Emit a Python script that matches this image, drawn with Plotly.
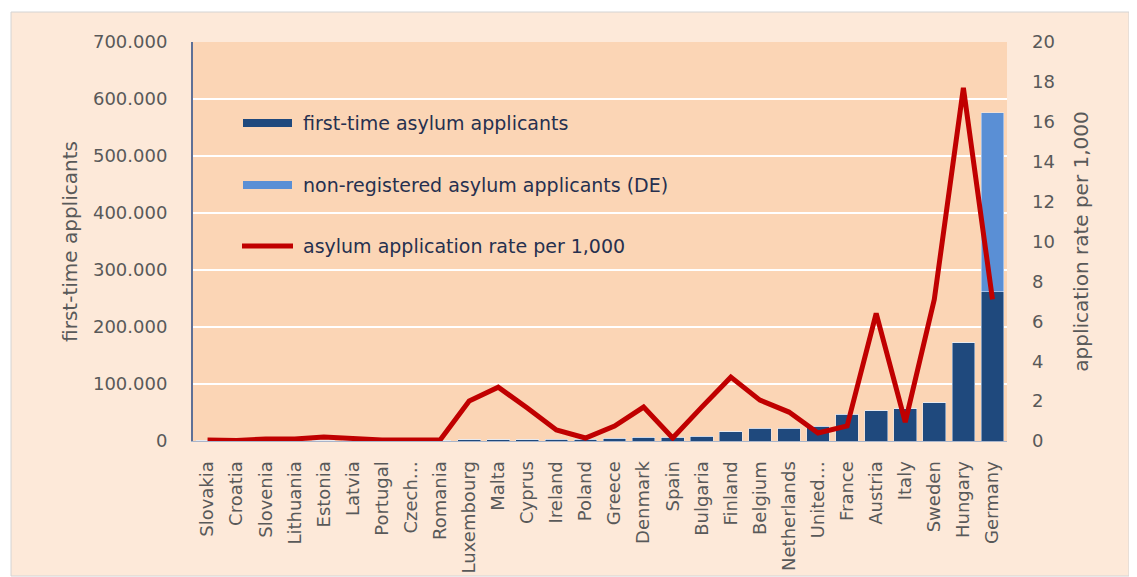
import plotly.graph_objects as go

countries = ["Slovakia", "Croatia", "Slovenia", "Lithuania", "Estonia", "Latvia",
             "Portugal", "Czech…", "Romania", "Luxembourg", "Malta", "Cyprus",
             "Ireland", "Poland", "Greece", "Denmark", "Spain", "Bulgaria",
             "Finland", "Belgium", "Netherlands", "United…", "France", "Austria",
             "Italy", "Sweden", "Hungary", "Germany"]
first_time = [150, 100, 150, 150, 100, 200, 400, 600, 800, 2500, 2000, 2500,
              3000, 3500, 5000, 6500, 7000, 8500, 16000, 22000, 22000, 26000,
              47000, 53000, 57000, 67000, 172000, 262000]
non_registered = [0, 0, 0, 0, 0, 0, 0, 0, 0, 0, 0, 0, 0, 0, 0, 0, 0, 0, 0, 0,
                  0, 0, 0, 0, 0, 0, 0, 314000]
rate = [0.05, 0.03, 0.1, 0.1, 0.2, 0.1, 0.05, 0.05, 0.05, 2.0, 2.7, 1.65,
        0.55, 0.15, 0.75, 1.7, 0.15, 1.7, 3.2, 2.05, 1.45, 0.4, 0.75, 6.4,
        0.95, 7.1, 17.7, 7.1]

legend_labels = ["first-time asylum applicants",
                 "non-registered asylum applicants (DE)",
                 "asylum application rate per 1,000"]

DARK = "#1F497D"
LIGHT = "#5A8FD5"
RED = "#C00000"
FONT = "DejaVu Sans"
GRAY = "#595959"

# the page places the figure 8px in from the top-left corner
OFF = 8
FW, FH = 1137 - OFF, 577 - OFF

fig = go.Figure()
fig.add_trace(go.Bar(x=countries, y=first_time, marker_color=DARK,
                     name=legend_labels[0], showlegend=False))
fig.add_trace(go.Bar(x=countries, y=non_registered, marker_color=LIGHT,
                     name=legend_labels[1], showlegend=False))
fig.add_trace(go.Scatter(x=countries, y=rate, yaxis="y2", mode="lines",
                         line=dict(color=RED, width=5), name=legend_labels[2],
                         showlegend=False))

# plot area in page pixels: x 193..1007, y 42..441
L, R, T, B = 193, 1007, 42, 441
W, H = R - L, B - T
def px(x):
    return (x - L) / W
def py(y):
    return (B - y) / H

shapes = [
    dict(type="rect", xref="paper", yref="paper", layer="below",
         x0=px(11), x1=px(1129), y0=py(576), y1=py(12),
         fillcolor="#FDE9D9", line=dict(color="#D4D4D4", width=1)),
    dict(type="rect", xref="paper", yref="paper", layer="below",
         x0=0, x1=1, y0=0, y1=1, fillcolor="#FBD5B5", line=dict(width=0)),
    # legend swatches
    dict(type="rect", xref="paper", yref="paper", x0=px(243), x1=px(292),
         y0=py(127), y1=py(119), fillcolor=DARK, line=dict(width=0)),
    dict(type="rect", xref="paper", yref="paper", x0=px(243), x1=px(292),
         y0=py(189), y1=py(181), fillcolor=LIGHT, line=dict(width=0)),
    dict(type="line", xref="paper", yref="paper", x0=px(242), x1=px(293),
         y0=py(246), y1=py(246), line=dict(color=RED, width=5)),
]
annotations = []
for lab, yy in zip(legend_labels, [123, 185, 246]):
    annotations.append(dict(xref="paper", yref="paper", x=px(301), y=py(yy),
                            text=lab, showarrow=False, xanchor="left",
                            yanchor="middle",
                            font=dict(family=FONT, size=19, color="#26304F")))

fig.update_layout(
    width=FW, height=FH,
    margin=dict(l=L - OFF, r=FW - (R - OFF), t=T - OFF, b=FH - (B - OFF),
                autoexpand=False),
    paper_bgcolor="white",
    plot_bgcolor="rgba(0,0,0,0)",
    barmode="stack",
    bargap=0.22,
    separators=",.",
    showlegend=False,
    shapes=shapes,
    annotations=annotations,
    font=dict(family=FONT, size=18, color=GRAY),
    xaxis=dict(tickangle=-90, showgrid=False, showline=True,
               linecolor="#A9B5CB", linewidth=1, ticks="",
               ticklabelstandoff=12,
               tickfont=dict(family=FONT, size=18, color=GRAY),
               range=[-0.5, len(countries) - 0.5], automargin=False),
    yaxis=dict(range=[0, 700000], dtick=100000, tickformat=",d",
               showgrid=True, gridcolor="white", gridwidth=2,
               showline=True, linecolor="#5E7096", linewidth=2,
               zeroline=False, ticks="", ticklabelstandoff=20,
               tickfont=dict(family=FONT, size=18, color=GRAY),
               title=dict(text="first-time applicants", standoff=10,
                          font=dict(family=FONT, size=20, color=GRAY)),
               automargin=False),
    yaxis2=dict(range=[0, 20], dtick=2, overlaying="y", side="right",
                showgrid=False, showline=False, zeroline=False, ticks="",
                ticklabelstandoff=24,
                tickfont=dict(family=FONT, size=18, color=GRAY),
                title=dict(text="application rate per 1,000", standoff=20,
                           font=dict(family=FONT, size=20, color=GRAY)),
                automargin=False),
)

fig.write_html("out.html")
